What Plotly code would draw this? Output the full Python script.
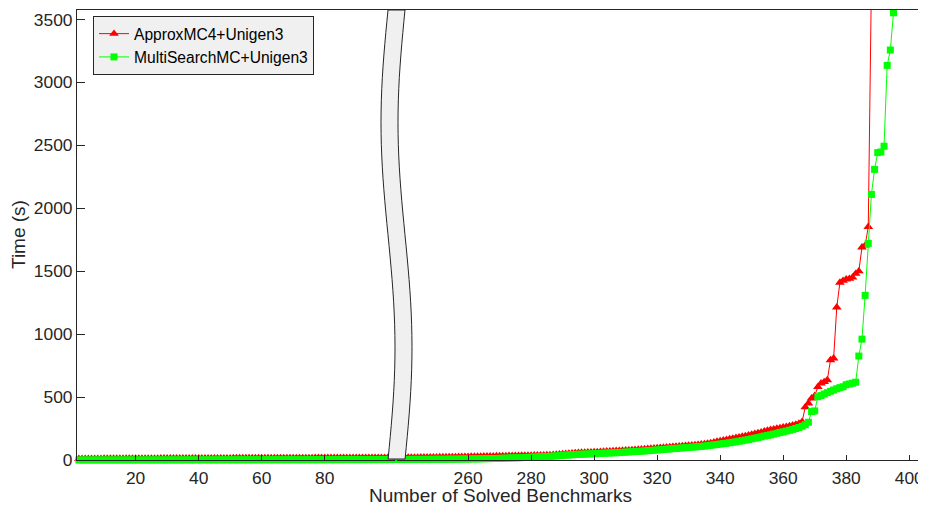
import math
import plotly.graph_objects as go

# ---------------- data ----------------
bench_left = list(range(1, 104))
approx_left = [9, 9, 9, 10, 10, 10, 10, 10, 10, 11, 11, 11, 11, 11, 11, 11, 11, 12, 12, 12,
               12, 12, 12, 12, 12, 12, 12, 13, 13, 13, 13, 13, 13, 13, 13, 13, 13, 14, 14, 14,
               14, 14, 14, 14, 14, 14, 14, 14, 14, 14, 15, 15, 15, 15, 15, 15, 15, 15, 15, 15,
               15, 15, 15, 16, 16, 16, 16, 16, 16, 16, 16, 16, 16, 16, 16, 16, 17, 17, 17, 17,
               17, 17, 17, 17, 17, 17, 17, 17, 17, 17, 17, 18, 18, 18, 18, 18, 18, 18, 18, 18,
               18, 18, 18]
multi_left = [0.1, 0.1, 0.1, 0.1, 0.2, 0.2, 0.2, 0.2, 0.2, 0.3, 0.3, 0.3, 0.3, 0.3, 0.4, 0.4, 0.4, 0.4, 0.5, 0.5,
              0.5, 0.5, 0.6, 0.6, 0.6, 0.6, 0.7, 0.7, 0.7, 0.8, 0.8, 0.8, 0.9, 0.9, 0.9, 1.0, 1.0, 1.0, 1.1, 1.1,
              1.1, 1.2, 1.2, 1.2, 1.3, 1.3, 1.3, 1.4, 1.4, 1.4, 1.5, 1.5, 1.5, 1.6, 1.6, 1.6, 1.7, 1.7, 1.7, 1.8,
              1.8, 1.8, 1.9, 1.9, 2.0, 2.0, 2.0, 2.1, 2.1, 2.2, 2.2, 2.2, 2.3, 2.3, 2.4, 2.4, 2.4, 2.5, 2.5, 2.6,
              2.6, 2.7, 2.7, 2.8, 2.8, 2.9, 2.9, 3.0, 3.0, 3.1, 3.1, 3.2, 3.2, 3.3, 3.3, 3.4, 3.4, 3.5, 3.5, 3.6,
              3.6, 3.7, 3.7]

bench_right_approx = list(range(237, 389))
approx_right = [19, 19, 19, 19, 20, 20, 20, 20, 21, 21, 21, 22, 22, 22,
                23, 23, 23, 24, 24, 24, 25, 25, 26, 26, 27, 27, 28, 28, 29,
                29, 30, 30, 31, 31, 32, 32, 33, 33, 34, 34, 35, 35, 36, 36,
                37, 37, 38, 38, 39, 40, 42, 44, 46, 48, 50, 52, 54, 56, 58,
                59, 60, 61, 62, 63, 64, 66, 67, 69, 70, 72, 73, 74, 76, 77,
                78, 79, 81, 83, 85, 87, 89, 91, 93, 95, 97, 99, 101, 103, 106,
                108, 110, 112, 114, 116, 118, 120, 122, 125, 128, 132, 136, 141, 146, 151,
                156, 161, 166, 171, 176, 181, 186, 191, 197, 203, 209, 215, 221, 228, 235,
                240, 245, 250, 255, 260, 265, 270, 276, 282, 290, 304,
                420, 450, 490, 510, 580, 609, 620, 635, 794, 808, 1213,
                1410, 1425, 1435, 1440, 1450, 1480, 1500, 1690, 1705, 1853, 3800]

bench_right_multi = list(range(237, 396))
multi_right = [4, 4, 4, 4, 4, 5, 5, 5, 5, 5, 5, 5, 6, 6,
               6, 6, 6, 7, 7, 7, 7, 8, 8, 8, 9, 9, 9, 10, 10,
               11, 11, 12, 12, 13, 14, 15, 16, 17, 17, 18, 19, 20, 21, 22,
               23, 24, 25, 26, 28, 29, 31, 33, 35, 37, 39, 40, 42, 44, 45,
               46, 47, 48, 49, 50, 51, 53, 54, 55, 56, 57, 58, 59, 61, 63,
               64, 66, 67, 69, 70, 72, 74, 76, 78, 80, 82, 84, 86, 88, 90,
               92, 94, 96, 98, 100, 102, 104, 106, 108, 111, 114, 117, 120, 123, 127,
               130, 133, 137, 141, 145, 149, 153, 158, 163, 168, 173, 178, 184, 190, 195,
               200, 206, 212, 218, 224, 230, 236, 243, 250, 258, 268, 280,
               300, 385, 390, 503, 512, 524, 535, 546, 556, 566, 575, 582,
               598, 604, 610, 618, 826, 960, 1308, 1721,
               2110, 2309, 2442, 2447, 2493, 3135, 3257, 3553]

x_ticks_left = [20, 40, 60, 80]
x_ticks_right = [260, 280, 300, 320, 340, 360, 380, 400]
y_ticks = [0, 500, 1000, 1500, 2000, 2500, 3000, 3500]

series_names = ["ApproxMC4+Unigen3", "MultiSearchMC+Unigen3"]

# ---------------- style ----------------
RED = "#ff0000"
GREEN = "#00ff00"
AX = "#262626"
FONT = "Liberation Sans, Arial, Helvetica, sans-serif"
OFF = 8  # page body margin in the browser
W, H = 926 - OFF, 505 - OFF
# target plot area in screenshot pixels
P_L, P_R, P_T, P_B = 77, 925, 10, 460
ML, MR, MT = P_L - OFF, OFF + W - P_R, P_T - OFF
MB = OFF + H - P_B
PW, PH = W - ML - MR, H - MT - MB

left_range = [1.4, 102.8]
right_range = [237.3, 405.0]
span = (left_range[1] - left_range[0]) + (right_range[1] - right_range[0])
split = (left_range[1] - left_range[0]) / span
y_range = [0, 3575]


def px2paper(px, py):
    return (px - P_L) / PW, (P_B - py) / PH


fig = go.Figure()


def add(x, y, name, color, symbol, size, xa, ya, show):
    fig.add_trace(go.Scatter(
        x=x, y=y, mode="lines+markers", name=name, showlegend=show,
        line=dict(color=color, width=1),
        marker=dict(symbol=symbol, size=size, color=color, line=dict(width=0)),
        xaxis=xa, yaxis=ya, cliponaxis=False))


add(bench_left, approx_left, series_names[0], RED, "triangle-up", 8.5, "x", "y", True)
add(bench_left, multi_left, series_names[1], GREEN, "square", 7, "x", "y", True)
add(bench_right_approx, approx_right, series_names[0], RED, "triangle-up", 8.5, "x2", "y2", False)
add(bench_right_multi, multi_right, series_names[1], GREEN, "square", 7, "x2", "y2", False)

tickfont = dict(family=FONT, size=17.4, color=AX)
common_x = dict(ticks="inside", ticklen=5, tickcolor=AX, tickwidth=1, showline=True,
                linecolor=AX, linewidth=1, mirror=True, showgrid=False, zeroline=False,
                tickfont=tickfont, ticklabelstandoff=2)

lx, ly = px2paper(93, 16)
fig.update_layout(
    width=W, height=H,
    margin=dict(l=ML, r=MR, t=MT, b=MB),
    paper_bgcolor="white", plot_bgcolor="white",
    font=dict(family=FONT, color=AX),
    xaxis=dict(domain=[0, split], range=left_range, tickvals=x_ticks_left, anchor="y", **common_x),
    xaxis2=dict(domain=[split, 1], range=right_range, tickvals=x_ticks_right, anchor="y2", **common_x),
    yaxis=dict(range=y_range, tickvals=y_ticks, anchor="x", ticks="inside", ticklen=8,
               tickcolor=AX, showline=True, linecolor=AX, linewidth=1, showgrid=False,
               zeroline=False, tickfont=tickfont),
    yaxis2=dict(range=y_range, matches="y", anchor="x2", side="right", ticks="inside", ticklen=4,
                tickvals=y_ticks, tickcolor=AX, showline=True, linecolor=AX, linewidth=1,
                showgrid=False, zeroline=False, showticklabels=False),
    legend=dict(x=lx, y=ly, xanchor="left", yanchor="top",
                bgcolor="#f0f0f0", bordercolor=AX, borderwidth=1,
                font=dict(family=FONT, size=15.6, color="black"), tracegroupgap=0),
    showlegend=True,
)

# axis titles
tx, ty = px2paper(500, 495)
fig.add_annotation(text="Number of Solved Benchmarks", xref="paper", yref="paper",
                   x=tx, y=ty, xanchor="center", yanchor="middle",
                   showarrow=False, font=dict(family=FONT, size=19, color=AX))
tx, ty = px2paper(18, 235)
fig.add_annotation(text="Time (s)", xref="paper", yref="paper", textangle=-90,
                   x=tx, y=ty, xanchor="center", yanchor="middle",
                   showarrow=False, font=dict(family=FONT, size=19, color=AX))

# axis-break decoration (S-shaped band)
left_pts, right_pts = [], []
n = 40
for i in range(n + 1):
    py = 10 + (459 - 10) * i / n
    bx = 388 - 7 * math.sin(2 * math.pi * (py - 10) / 450)
    left_pts.append(px2paper(bx, py))
    right_pts.append(px2paper(bx + 17, py))
pts = left_pts + right_pts[::-1]
path = "M " + " L ".join(f"{a:.5f},{b:.5f}" for a, b in pts) + " Z"
fig.add_shape(type="path", path=path, xref="paper", yref="paper",
              fillcolor="#f0f0f0", line=dict(color=AX, width=1), layer="above")

fig.write_html("out.html")
